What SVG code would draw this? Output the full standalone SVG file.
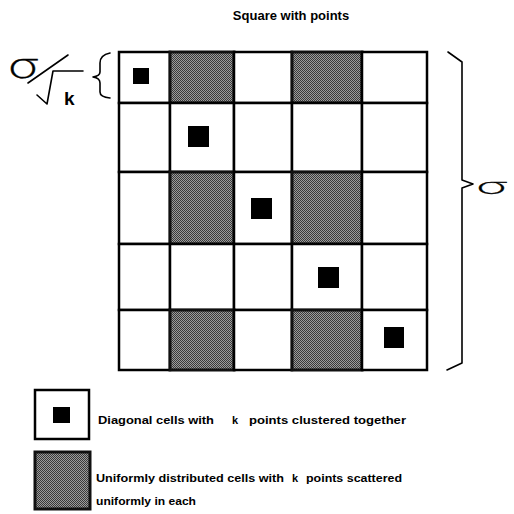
<svg xmlns="http://www.w3.org/2000/svg" width="514" height="514" viewBox="0 0 514 514">
<defs>
<pattern id="dither" width="2" height="2" patternUnits="userSpaceOnUse">
<rect width="2" height="2" fill="#9c9c9c"/>
<rect width="1" height="1" fill="#3a3a3a"/>
<rect x="1" y="1" width="1" height="1" fill="#3a3a3a"/>
</pattern>
<style>
.cell{fill:#fff;stroke:#000;stroke-width:2.5}
.gray{fill:url(#dither);stroke:#111;stroke-width:3}
.pt{fill:#000}
.ink{fill:none;stroke:#000;stroke-width:1.6;stroke-linecap:round;stroke-linejoin:round}
.lbl{font-family:"Liberation Sans",Arial,sans-serif;font-weight:bold;fill:#000}
.sig{font-family:Inter,Lato,"DejaVu Sans",sans-serif;font-weight:200;fill:#000;stroke:#000;stroke-width:0.4}
</style>
</defs>
<rect width="514" height="514" fill="#fff"/>
<text class="lbl" x="291" y="20" font-size="13" text-anchor="middle">Square with points</text>

<g id="grid">
<g id="r0c0"><rect class="cell" x="119" y="52" width="51" height="51"/><rect class="pt" x="133" y="68" width="16" height="16"/></g>
<g id="r0c1"><rect class="gray" x="170" y="52" width="64" height="51"/></g>
<g id="r0c2"><rect class="cell" x="234" y="52" width="58" height="51"/></g>
<g id="r0c3"><rect class="gray" x="292" y="52" width="70" height="51"/></g>
<g id="r0c4"><rect class="cell" x="362" y="52" width="65" height="51"/></g>

<g id="r1c0"><rect class="cell" x="119" y="103" width="51" height="69"/></g>
<g id="r1c1"><rect class="cell" x="170" y="103" width="64" height="69"/><rect class="pt" x="188" y="126" width="21" height="21"/></g>
<g id="r1c2"><rect class="cell" x="234" y="103" width="58" height="69"/></g>
<g id="r1c3"><rect class="cell" x="292" y="103" width="70" height="69"/></g>
<g id="r1c4"><rect class="cell" x="362" y="103" width="65" height="69"/></g>

<g id="r2c0"><rect class="cell" x="119" y="172" width="51" height="72"/></g>
<g id="r2c1"><rect class="gray" x="170" y="172" width="64" height="72"/></g>
<g id="r2c2"><rect class="cell" x="234" y="172" width="58" height="72"/><rect class="pt" x="251" y="198" width="21" height="21"/></g>
<g id="r2c3"><rect class="gray" x="292" y="172" width="70" height="72"/></g>
<g id="r2c4"><rect class="cell" x="362" y="172" width="65" height="72"/></g>

<g id="r3c0"><rect class="cell" x="119" y="244" width="51" height="66"/></g>
<g id="r3c1"><rect class="cell" x="170" y="244" width="64" height="66"/></g>
<g id="r3c2"><rect class="cell" x="234" y="244" width="58" height="66"/></g>
<g id="r3c3"><rect class="cell" x="292" y="244" width="70" height="66"/><rect class="pt" x="318" y="267" width="21" height="21"/></g>
<g id="r3c4"><rect class="cell" x="362" y="244" width="65" height="66"/></g>

<g id="r4c0"><rect class="cell" x="119" y="310" width="51" height="60"/></g>
<g id="r4c1"><rect class="gray" x="170" y="310" width="64" height="60"/></g>
<g id="r4c2"><rect class="cell" x="234" y="310" width="58" height="60"/></g>
<g id="r4c3"><rect class="gray" x="292" y="310" width="70" height="60"/></g>
<g id="r4c4"><rect class="cell" x="362" y="310" width="65" height="60"/><rect class="pt" x="384" y="327" width="20" height="21"/></g>
</g>

<g id="cell-size-label">
<text class="sig" transform="translate(8,78) scale(1.5,1)" font-size="34">σ</text>
<path class="ink" d="M28,83 L68,55"/>
<path class="ink" d="M37,95 L47,104 L53,71 L83,71"/>
<text class="lbl" x="64" y="105" font-size="19">k</text>
<path class="ink" d="M110,53 Q100,55 100,63 L100,72 Q100,76 93,77 Q100,78 100,83 L100,92 Q100,97 110,98"/>
</g>

<g id="side-label">
<path class="ink" d="M448,52 L462,62 L462,180 L473,184 L462,188 L462,363 L447,370"/>
<text class="sig" transform="translate(476,194) scale(1.65,0.65)" font-size="32">σ</text>
</g>

<g id="legend-diagonal">
<rect class="cell" x="35" y="390" width="54" height="49"/>
<rect class="pt" x="53" y="407" width="17" height="16"/>
<text class="lbl" y="424" font-size="11"><tspan x="98" textLength="116" lengthAdjust="spacingAndGlyphs">Diagonal cells with</tspan> <tspan x="232">k</tspan> <tspan x="249" textLength="157" lengthAdjust="spacingAndGlyphs">points clustered together</tspan></text>
</g>

<g id="legend-uniform">
<rect class="gray" x="35" y="452" width="55" height="57"/>
<text class="lbl" y="482" font-size="11"><tspan x="96" textLength="188" lengthAdjust="spacingAndGlyphs">Uniformly distributed cells with</tspan> <tspan x="292">k</tspan> <tspan x="306" textLength="96" lengthAdjust="spacingAndGlyphs">points scattered</tspan></text>
<text class="lbl" x="96" y="505" font-size="11" textLength="100" lengthAdjust="spacingAndGlyphs">uniformly in each</text>
</g>
</svg>
